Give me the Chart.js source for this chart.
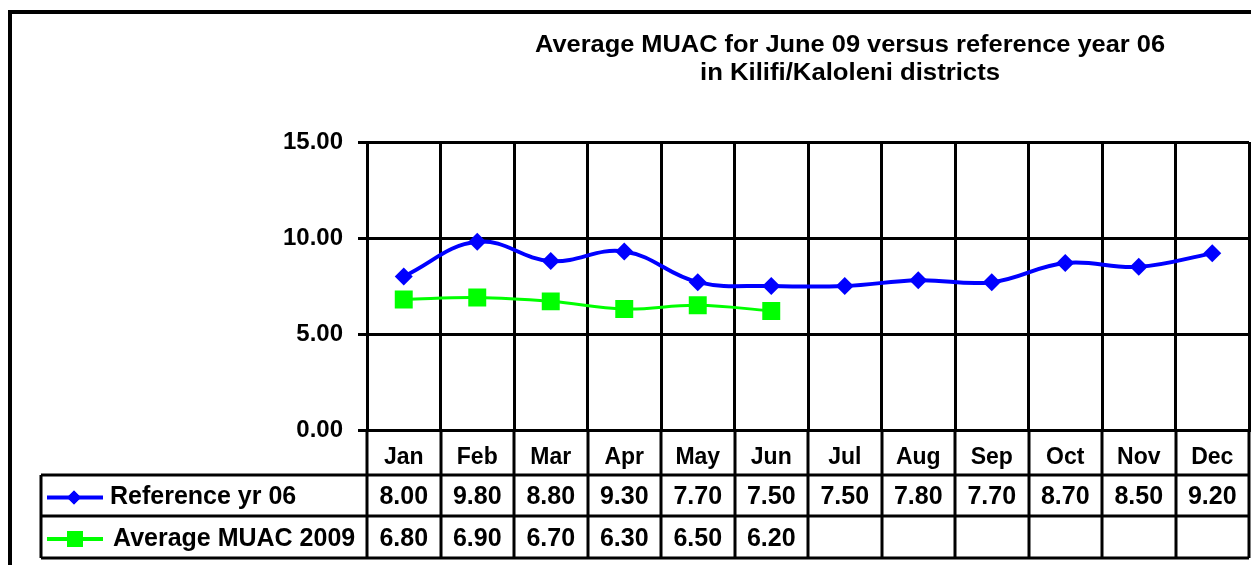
<!DOCTYPE html>
<html>
<head>
<meta charset="utf-8">
<script src="https://cdn.jsdelivr.net/npm/chart.js@4"></script>
<style>
  html, body { margin: 0; padding: 0; background: #fff; }
  #wrap { width: 1251px; height: 565px; position: relative; }
</style>
</head>
<body>
<div id="wrap"><canvas id="chart"></canvas></div>
<script>
const months = ['Jan', 'Feb', 'Mar', 'Apr', 'May', 'Jun', 'Jul', 'Aug', 'Sep', 'Oct', 'Nov', 'Dec'];
const refYr06 = [8.00, 9.80, 8.80, 9.30, 7.70, 7.50, 7.50, 7.80, 7.70, 8.70, 8.50, 9.20];
const muac2009 = [6.80, 6.90, 6.70, 6.30, 6.50, 6.20, null, null, null, null, null, null];
const seriesNames = ['Reference yr 06', 'Average MUAC 2009'];
const titleLines = ['Average MUAC for June 09 versus reference year 06', 'in Kilifi/Kaloleni districts'];

const FONT = '"Liberation Sans", Arial, sans-serif';

// frame, title and the data table under the x axis
const tablePlugin = {
    id: 'tablePlugin',
    afterDraw(chart) {
        const ctx = chart.ctx;
        const area = chart.chartArea;
        const x = chart.scales.x;
        const ds = chart.data.datasets;

        ctx.save();
        // outer frame
        ctx.strokeStyle = '#000';
        ctx.lineWidth = 4;
        ctx.beginPath();
        ctx.moveTo(10, 565);
        ctx.lineTo(10, 12);
        ctx.lineTo(1251, 12);
        ctx.stroke();

        // title, stretched to the width of the original
        ctx.fillStyle = '#000';
        ctx.font = 'bold 23px ' + FONT;
        ctx.textAlign = 'center';
        ctx.textBaseline = 'middle';
        const widths = [630, 300];
        titleLines.forEach((t, i) => {
            const w = ctx.measureText(t).width;
            ctx.save();
            ctx.translate(850, 46 + i * 28);
            ctx.scale(widths[i] / w, 1);
            ctx.fillText(t, 0, 0);
            ctx.restore();
        });

        // table grid
        const rowTops = [475, 516, 558];
        const tableLeft = 41;
        const step = x.getPixelForValue(1) - x.getPixelForValue(0);
        ctx.lineWidth = 3;
        ctx.beginPath();
        rowTops.forEach(y => {
            ctx.moveTo(tableLeft, y);
            ctx.lineTo(area.right, y);
        });
        ctx.moveTo(tableLeft, rowTops[0]);
        ctx.lineTo(tableLeft, rowTops[2]);
        for (let i = 0; i <= months.length; i++) {
            const px = Math.round(x.getPixelForValue(0) - step / 2 + i * step);
            ctx.moveTo(px, area.bottom);
            ctx.lineTo(px, rowTops[2]);
        }
        ctx.stroke();

        // legend keys and values
        ctx.font = 'bold 25px ' + FONT;
        ds.forEach((d, r) => {
            const cy = (rowTops[r] + rowTops[r + 1]) / 2 + 2;
            ctx.strokeStyle = d.borderColor;
            ctx.fillStyle = d.borderColor;
            ctx.lineWidth = 4;
            ctx.beginPath();
            ctx.moveTo(47, cy);
            ctx.lineTo(103, cy);
            ctx.stroke();
            if (r === 0) {
                Chart.helpers.drawPoint(ctx, { pointStyle: 'rectRot', radius: 7, rotation: 0, borderWidth: 0 }, 74, cy);
                ctx.fill();
            } else {
                ctx.fillRect(67, cy - 8, 16, 16);
            }
            ctx.fillStyle = '#000';
            ctx.textAlign = 'left';
            ctx.fillText(seriesNames[r], r === 0 ? 110 : 113, cy);
            ctx.textAlign = 'center';
            d.data.forEach((v, i) => {
                if (v === null) return;
                ctx.fillText(v.toFixed(2), x.getPixelForValue(i), cy);
            });
        });
        ctx.restore();
    }
};

new Chart(document.getElementById('chart'), {
    type: 'line',
    data: {
        labels: months,
        datasets: [{
            label: seriesNames[0],
            data: refYr06,
            borderColor: '#0000ff',
            backgroundColor: '#0000ff',
            borderWidth: 4,
            tension: 0.4,
            pointStyle: 'rectRot',
            pointRadius: 9,
            pointBorderWidth: 0
        }, {
            label: seriesNames[1],
            data: muac2009,
            borderColor: '#00ff00',
            backgroundColor: '#00ff00',
            borderWidth: 3,
            tension: 0.4,
            pointStyle: 'rect',
            pointRadius: 12.7,
            pointBorderWidth: 0
        }]
    },
    options: {
        responsive: true,
        maintainAspectRatio: false,
        animation: false,
        layout: { autoPadding: false, padding: { top: 142, right: 2, left: 0, bottom: 0 } },
        plugins: {
            legend: { display: false },
            tooltip: { enabled: false }
        },
        scales: {
            x: {
                offset: true,
                afterFit: s => {
                    s.height = 135;
                    s.paddingLeft = 0;
                    s.paddingRight = 0;
                },
                grid: { offset: true, color: '#000', lineWidth: 3, drawTicks: false },
                border: { color: '#000', width: 3 },
                ticks: {
                    padding: 14,
                    color: '#000',
                    font: { family: FONT, size: 23, weight: 'bold' },
                    maxRotation: 0,
                    autoSkip: false
                }
            },
            y: {
                min: 0,
                max: 15,
                afterFit: s => { s.width = 367; },
                grid: { color: '#000', lineWidth: 3, tickLength: 9 },
                border: { color: '#000', width: 3 },
                ticks: {
                    stepSize: 5,
                    padding: 15,
                    color: '#000',
                    font: { family: FONT, size: 24, weight: 'bold' },
                    callback: v => v.toFixed(2)
                }
            }
        }
    },
    plugins: [tablePlugin]
});
</script>
</body>
</html>
